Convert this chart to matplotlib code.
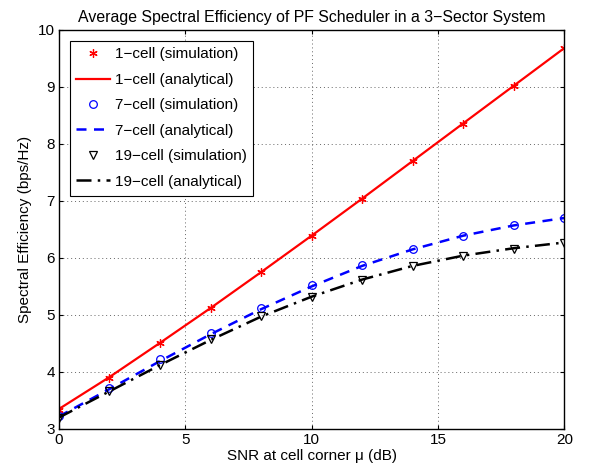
import matplotlib
matplotlib.use('Agg')
import matplotlib.pyplot as plt

plt.rcParams['font.family'] = ['Liberation Sans', 'DejaVu Sans']

snr_db = [0, 2, 4, 6, 8, 10, 12, 14, 16, 18, 20]

# 1-cell
cell1_sim = [3.33, 3.90, 4.50, 5.12, 5.75, 6.38, 7.03, 7.70, 8.35, 9.02, 9.68]
cell1_ana = [3.35, 3.91, 4.51, 5.12, 5.75, 6.39, 7.04, 7.70, 8.36, 9.02, 9.68]
# 7-cell
cell7_sim = [3.22, 3.72, 4.22, 4.68, 5.13, 5.52, 5.87, 6.16, 6.39, 6.58, 6.70]
cell7_ana = [3.22, 3.70, 4.19, 4.66, 5.10, 5.50, 5.86, 6.15, 6.39, 6.57, 6.70]
# 19-cell
cell19_sim = [3.20, 3.67, 4.13, 4.58, 4.98, 5.31, 5.62, 5.86, 6.03, 6.16, 6.26]
cell19_ana = [3.20, 3.66, 4.12, 4.56, 4.97, 5.32, 5.62, 5.86, 6.04, 6.17, 6.27]

fig = plt.figure(figsize=(5.89, 4.74), dpi=100)
ax = fig.add_axes([0.100, 0.095, 0.858, 0.842])

ax.plot(snr_db, cell1_sim, linestyle='none', marker=(6, 2, 0), color='red', ms=6, mew=0.9,
        label='1\u2212cell (simulation)')
ax.plot(snr_db, cell1_ana, 'r-', lw=1.6, label='1\u2212cell (analytical)')
ax.plot(snr_db, cell7_sim, 'o', color='blue', mfc='none', ms=5.5, mew=0.9, label='7\u2212cell (simulation)')
ax.plot(snr_db, cell7_ana, '--', color='blue', lw=1.8, dashes=(4, 3), label='7\u2212cell (analytical)')
ax.plot(snr_db, cell19_sim, 'v', color='black', mfc='none', ms=5.5, mew=0.9, label='19\u2212cell (simulation)')
ax.plot(snr_db, cell19_ana, '-.', color='black', lw=1.8, dashes=(6, 2.5, 1, 2.5), label='19\u2212cell (analytical)')

ax.set_xlim(0, 20)
ax.set_ylim(3, 10)
ax.set_xticks([0, 5, 10, 15, 20])
ax.set_yticks(range(3, 11))
ax.grid(True, linestyle=(0, (1, 3)), color='0.4', lw=0.7)
ax.tick_params(direction='in', top=True, right=True, labelsize=11, length=3, pad=3)
for s in ax.spines.values():
    s.set_linewidth(1.0)

ax.set_xlabel('SNR at cell corner \u03bc (dB)', fontsize=11, labelpad=1)
ax.set_ylabel('Spectral Efficiency (bps/Hz)', fontsize=11, labelpad=4)
ax.set_title('Average Spectral Efficiency of PF Scheduler in a 3\u2212Sector System', fontsize=11.4, pad=6)

leg = ax.legend(loc='upper left', fontsize=11, fancybox=False, framealpha=1,
                edgecolor='black', handlelength=2.2, handletextpad=0.3,
                borderaxespad=0.7, labelspacing=0.75, borderpad=0.45)
leg.get_frame().set_linewidth(0.8)

fig.savefig('out.png', dpi=100)
